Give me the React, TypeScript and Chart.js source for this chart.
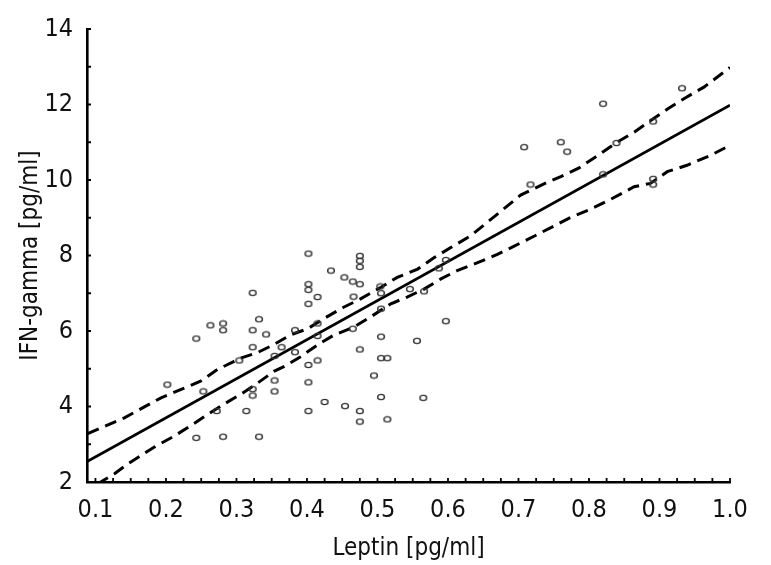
import React, { useEffect, useRef } from "react";
import { Chart, registerables } from "chart.js";

Chart.register(...registerables);

// Scatter data: Leptin [pg/ml] vs IFN-gamma [pg/ml]
const leptin = [
  0.202, 0.243, 0.243, 0.253, 0.263, 0.272, 0.281, 0.281, 0.281, 0.304,
  0.314, 0.323, 0.323, 0.323, 0.323, 0.323, 0.332, 0.332, 0.342, 0.354,
  0.354, 0.354, 0.364, 0.383, 0.383, 0.402, 0.402, 0.402, 0.402, 0.402,
  0.402, 0.402, 0.415, 0.415, 0.415, 0.415, 0.425, 0.434, 0.453, 0.454,
  0.465, 0.466, 0.465, 0.475, 0.475, 0.475, 0.475, 0.475, 0.475, 0.475,
  0.495, 0.504, 0.505, 0.505, 0.505, 0.505, 0.514, 0.505, 0.514, 0.546,
  0.556, 0.565, 0.566, 0.587, 0.597, 0.597, 0.708, 0.717, 0.760, 0.769,
  0.820, 0.820, 0.839, 0.891, 0.891, 0.891, 0.932,
];
const ifnGamma = [
  4.58, 5.80, 3.17, 4.40, 6.15, 3.88, 6.20, 6.02, 3.20, 5.22,
  3.88, 7.01, 6.02, 5.57, 4.46, 4.29, 6.31, 3.20, 5.91, 5.34,
  4.69, 4.40, 5.57, 6.02, 5.44, 8.05, 7.24, 7.09, 6.72, 5.10,
  4.64, 3.88, 6.90, 6.20, 5.87, 5.22, 4.12, 7.60, 7.42, 4.01,
  7.31, 6.91, 6.06, 7.99, 7.86, 7.70, 7.24, 5.51, 3.88, 3.60,
  4.82, 7.18, 7.00, 6.59, 5.85, 5.28, 5.28, 4.25, 3.66, 7.11,
  5.74, 4.23, 7.05, 7.66, 7.88, 6.26, 10.87, 9.88, 11.00, 10.75,
  12.02, 10.15, 10.98, 11.55, 10.03, 9.88, 12.43,
];

// Fitted regression line (end points)
const fitLeptin = [0.0888, 1.0];
const fitIfn = [2.55, 11.98];

// Upper confidence band
const upperLeptin = [
  0.089, 0.141, 0.193, 0.225, 0.249, 0.273, 0.296, 0.306, 0.330, 0.353,
  0.377, 0.401, 0.424, 0.452, 0.476, 0.505, 0.528, 0.557, 0.580, 0.604,
  0.632, 0.663, 0.703, 0.734, 0.760, 0.786, 0.814, 0.838, 0.866, 0.887,
  0.913, 0.937, 0.963, 1.0,
];
const upperIfn = [
  3.28, 3.70, 4.23, 4.48, 4.67, 4.98, 5.19, 5.28, 5.43, 5.64,
  5.90, 6.06, 6.33, 6.63, 6.85, 7.16, 7.42, 7.64, 7.94, 8.21,
  8.52, 8.99, 9.60, 9.88, 10.09, 10.32, 10.67, 10.98, 11.29, 11.57,
  11.90, 12.18, 12.46, 12.98,
];

// Lower confidence band
const lowerLeptin = [
  0.103, 0.127, 0.146, 0.183, 0.212, 0.235, 0.259, 0.282, 0.309, 0.330,
  0.353, 0.368, 0.391, 0.415, 0.438, 0.467, 0.490, 0.519, 0.542, 0.566,
  0.590, 0.613, 0.642, 0.670, 0.694, 0.722, 0.772, 0.800, 0.829, 0.864,
  0.887, 0.911, 0.939, 0.972, 1.0,
];
const lowerIfn = [
  1.95, 2.22, 2.48, 2.92, 3.22, 3.49, 3.79, 4.06, 4.36, 4.62,
  4.93, 5.06, 5.32, 5.63, 5.89, 6.11, 6.37, 6.72, 6.90, 7.11,
  7.38, 7.60, 7.81, 8.03, 8.25, 8.51, 8.99, 9.21, 9.47, 9.82,
  9.91, 10.22, 10.39, 10.65, 10.92,
];

const xTickLabels = [0.1, 0.2, 0.3, 0.4, 0.5, 0.6, 0.7, 0.8, 0.9, 1.0];
const yTickLabels = [2, 4, 6, 8, 10, 12, 14];
const xMinorStep = 0.025;
const yMinorStep = 1;

const X_MIN = 0.088;
const X_MAX = 1.0;
const Y_MIN = 2;
const Y_MAX = 14;

const FONT = '"Liberation Sans Narrow", "DejaVu Sans Condensed", "Noto Sans", sans-serif';

function makeMarker(): HTMLCanvasElement {
  const c = document.createElement("canvas");
  c.width = 10;
  c.height = 8;
  const g = c.getContext("2d")!;
  g.strokeStyle = "#333";
  g.lineWidth = 1.4;
  g.beginPath();
  g.ellipse(5, 4, 3.4, 2.6, 0, 0, Math.PI * 2);
  g.stroke();
  return c;
}

const minorTicks = {
  id: "minorTicks",
  afterDraw(chart: any) {
    const { ctx, chartArea, scales } = chart;
    const x = scales.x;
    const y = scales.y;
    ctx.save();
    ctx.strokeStyle = "#000";
    ctx.lineWidth = 1.8;
    ctx.beginPath();
    const nX = Math.round((xTickLabels[xTickLabels.length - 1] - xTickLabels[0]) / xMinorStep);
    for (let i = 0; i <= nX; i++) {
      const v = xTickLabels[0] + i * xMinorStep;
      const px = x.getPixelForValue(v);
      ctx.moveTo(px, chartArea.bottom);
      ctx.lineTo(px, chartArea.bottom - 4);
    }
    for (let v = Y_MIN; v <= Y_MAX + 1e-9; v += yMinorStep) {
      const py = y.getPixelForValue(v);
      ctx.moveTo(chartArea.left, py);
      ctx.lineTo(chartArea.left + 4, py);
    }
    ctx.stroke();
    ctx.restore();
  },
};

export default function App() {
  const ref = useRef<HTMLCanvasElement | null>(null);

  useEffect(() => {
    if (!ref.current) return;
    const marker = makeMarker();
    const pts = leptin.map((v, i) => ({ x: v, y: ifnGamma[i] }));
    const fit = fitLeptin.map((v, i) => ({ x: v, y: fitIfn[i] }));
    const up = upperLeptin.map((v, i) => ({ x: v, y: upperIfn[i] }));
    const lo = lowerLeptin.map((v, i) => ({ x: v, y: lowerIfn[i] }));

    const chart = new Chart(ref.current, {
      type: "scatter",
      data: {
        datasets: [
          {
            label: "points",
            data: pts,
            pointStyle: marker as any,
            pointRadius: 3,
            showLine: false,
          },
          {
            label: "fit",
            data: fit,
            showLine: true,
            borderColor: "#000",
            borderWidth: 2.8,
            pointRadius: 0,
            fill: false,
          },
          {
            label: "upper",
            data: up,
            showLine: true,
            borderColor: "#000",
            borderWidth: 3,
            borderDash: [12, 7],
            pointRadius: 0,
            fill: false,
          },
          {
            label: "lower",
            data: lo,
            showLine: true,
            borderColor: "#000",
            borderWidth: 3,
            borderDash: [12, 7],
            pointRadius: 0,
            fill: false,
          },
        ],
      },
      options: {
        responsive: false,
        animation: false,
        layout: { padding: { top: 24, right: 41, left: 0, bottom: 0 } },
        plugins: {
          legend: { display: false },
          tooltip: { enabled: false },
        },
        scales: {
          x: {
            type: "linear",
            min: X_MIN,
            max: X_MAX,
            grid: { display: false, drawTicks: false },
            border: { display: true, color: "#000", width: 2.6 },
            afterBuildTicks: (s: any) => {
              s.ticks = xTickLabels.map((v) => ({ value: v }));
            },
            afterFit: (s: any) => {
              s.height = 83;
            },
            ticks: {
              autoSkip: false,
              maxRotation: 0,
              padding: 13,
              color: "#111",
              font: { family: FONT, size: 25 },
              callback: (v: any) => Number(v).toFixed(1),
            },
            title: {
              display: true,
              text: "Leptin [pg/ml]",
              color: "#111",
              font: { family: FONT, size: 24 },
              padding: { top: 0, bottom: 2 },
            },
          },
          y: {
            type: "linear",
            min: Y_MIN,
            max: Y_MAX,
            grid: { display: false, drawTicks: false },
            border: { display: true, color: "#000", width: 2.6 },
            afterBuildTicks: (s: any) => {
              s.ticks = yTickLabels.map((v) => ({ value: v }));
            },
            afterFit: (s: any) => {
              s.width = 87;
            },
            ticks: {
              autoSkip: false,
              padding: 14,
              color: "#111",
              font: { family: FONT, size: 25 },
            },
            title: {
              display: true,
              text: "IFN-gamma [pg/ml]",
              color: "#111",
              font: { family: FONT, size: 24 },
              padding: { top: 16, bottom: 0 },
            },
          },
        },
      },
      plugins: [minorTicks],
    });
    return () => chart.destroy();
  }, []);

  return (
    <div style={{ position: "fixed", left: 0, top: 0, width: 771, height: 565, background: "#fff" }}>
      <canvas ref={ref} width={771} height={565} style={{ display: "block" }} />
    </div>
  );
}
